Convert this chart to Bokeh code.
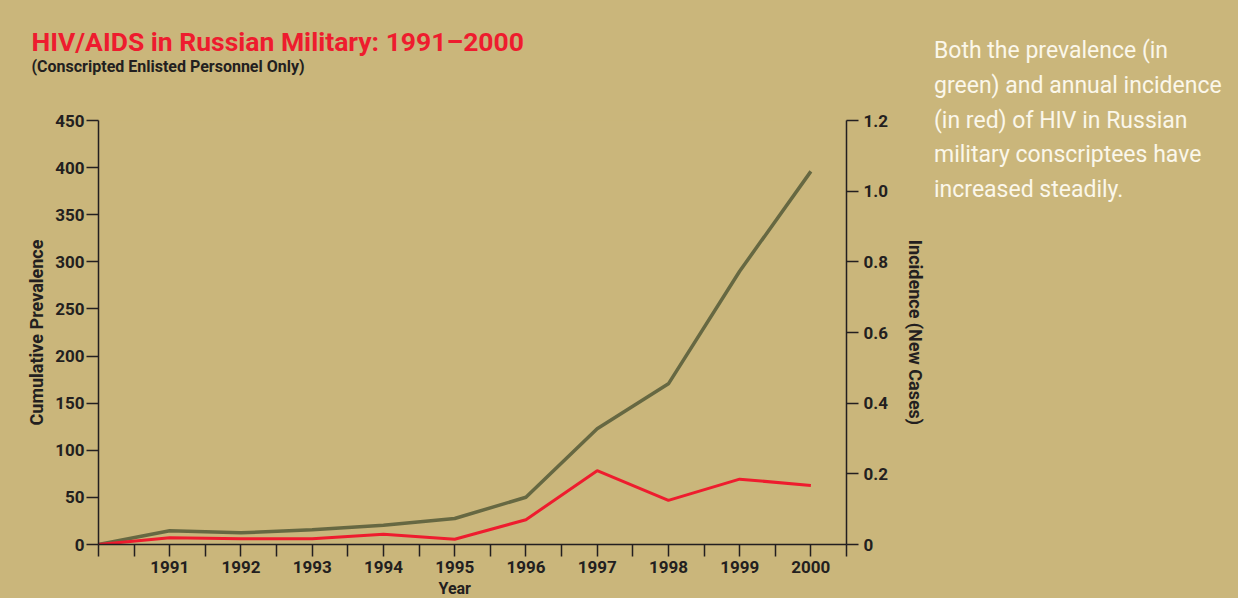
from bokeh.plotting import figure
from bokeh.layouts import row
from bokeh.models import Range1d, LinearAxis, FixedTicker, Title, Div, CustomJSTickFormatter
from bokeh.embed import file_html
from bokeh.resources import INLINE

# ---- data ----
years = [1990, 1991, 1992, 1993, 1994, 1995, 1996, 1997, 1998, 1999, 2000]
prevalence = [0, 14.5, 12.4, 15.6, 20.5, 27.6, 50.2, 122.8, 170.5, 290, 396]
incidence = [0, 0.019, 0.016, 0.016, 0.029, 0.015, 0.070, 0.209, 0.125, 0.185, 0.167]
year_ticks = [1991, 1992, 1993, 1994, 1995, 1996, 1997, 1998, 1999, 2000]
left_ticks = [0, 50, 100, 150, 200, 250, 300, 350, 400, 450]
right_ticks = [0, 0.2, 0.4, 0.6, 0.8, 1.0, 1.2]

title_text = "HIV/AIDS in Russian Military: 1991\u20132000"
subtitle_text = "(Conscripted Enlisted Personnel Only)"
note_lines = [
    "Both the prevalence (in",
    "green) and annual incidence",
    "(in red) of HIV in Russian",
    "military conscriptees have",
    "increased steadily.",
]

# ---- style ----
BG = "#CAB67B"
GREEN = "#666842"
RED = "#EE1C2E"
INK = "#231F20"
NOTE = "#FBF7EA"
FONT = "Roboto"

W, H = 1238, 598
PW = 928                     # chart figure width; the note panel takes the rest
X0, X1 = 1990, 2000.5
Y0, Y1 = 0, 450
R0, R1 = 0, 1.2

# frame placement (pixels)
FL, FR, FT, FB = 98, 848, 120, 544

p = figure(width=PW, height=H, output_backend="svg", toolbar_location=None, title=None,
           x_range=Range1d(X0, X1), y_range=Range1d(Y0, Y1),
           min_border_left=FL, min_border_right=PW - FR,
           min_border_top=FT, min_border_bottom=H - FB,
           background_fill_color=BG, border_fill_color=BG,
           outline_line_color=None, x_axis_location=None, y_axis_location=None)
p.styles = {"background-color": BG}
p.xgrid.visible = False
p.ygrid.visible = False
p.extra_y_ranges = {"inc": Range1d(R0, R1)}


def style_axis(ax):
    ax.axis_line_color = INK
    ax.axis_line_width = 1.5
    ax.major_tick_line_color = INK
    ax.major_tick_line_width = 1.5
    ax.major_tick_in = 0
    ax.major_tick_out = 12
    ax.minor_tick_line_color = INK
    ax.minor_tick_line_width = 1.5
    ax.minor_tick_in = 0
    ax.minor_tick_out = 12
    ax.major_label_text_font = FONT
    ax.major_label_text_font_style = "bold"
    ax.major_label_text_font_size = "17px"
    ax.major_label_text_color = INK
    ax.axis_label_text_font = FONT
    ax.axis_label_text_font_style = "bold"
    ax.axis_label_text_font_size = "18px"
    ax.axis_label_text_color = INK


minor = [years[0]] + [y + 0.5 for y in years]
xaxis = LinearAxis(ticker=FixedTicker(ticks=year_ticks, minor_ticks=minor))
style_axis(xaxis)
xaxis.major_label_standoff = 4
p.add_layout(xaxis, "below")

yaxis = LinearAxis(ticker=FixedTicker(ticks=left_ticks), axis_label="Cumulative Prevalence")
style_axis(yaxis)
yaxis.major_label_standoff = 2
yaxis.axis_label_standoff = 5
p.add_layout(yaxis, "left")

raxis = LinearAxis(y_range_name="inc", ticker=FixedTicker(ticks=right_ticks),
                   axis_label="Incidence (New Cases)",
                   formatter=CustomJSTickFormatter(code="return tick == 0 ? '0' : tick.toFixed(1);"))
style_axis(raxis)
raxis.major_label_standoff = 5
raxis.axis_label_standoff = 14
p.add_layout(raxis, "right")

p.line(years, prevalence, line_color=GREEN, line_width=3.5)
p.line(years, incidence, y_range_name="inc", line_color=RED, line_width=3)

# above panel, stacked outward from the frame: spacer, subtitle, title
p.add_layout(Title(text=" ", standoff=30, text_font_size="10px", text_color=BG), "above")
p.add_layout(Title(text=subtitle_text, align="left", offset=31 - FL, standoff=0,
                   vertical_align="top", text_font=FONT, text_font_style="bold",
                   text_font_size="16px", text_color=INK), "above")
p.add_layout(Title(text=title_text, align="left", offset=31 - FL, standoff=0,
                   text_font=FONT, text_font_style="bold", text_font_size="26.5px",
                   text_color=RED), "above")
# "Year" centred under the 1990-2000 span (left-aligned with an offset)
p.add_layout(Title(text="Year", align="left", offset=455 - FL - 17, standoff=2,
                   text_font=FONT, text_font_style="bold", text_font_size="16px",
                   text_color=INK), "below")

note_html = (
    '<div style="font-family: Roboto, sans-serif; font-size: 23px; line-height: 34.8px; '
    'color: %s; padding: 34px 0 0 %dpx; white-space: nowrap;">%s</div>'
    % (NOTE, 934 - PW, "<br>".join(note_lines))
)
note = Div(text=note_html, width=W - PW, height=H,
           styles={"background-color": BG, "margin": "0", "padding": "0"})

layout = row(p, note, spacing=0)
open("out.html", "w").write(file_html(layout, INLINE))
